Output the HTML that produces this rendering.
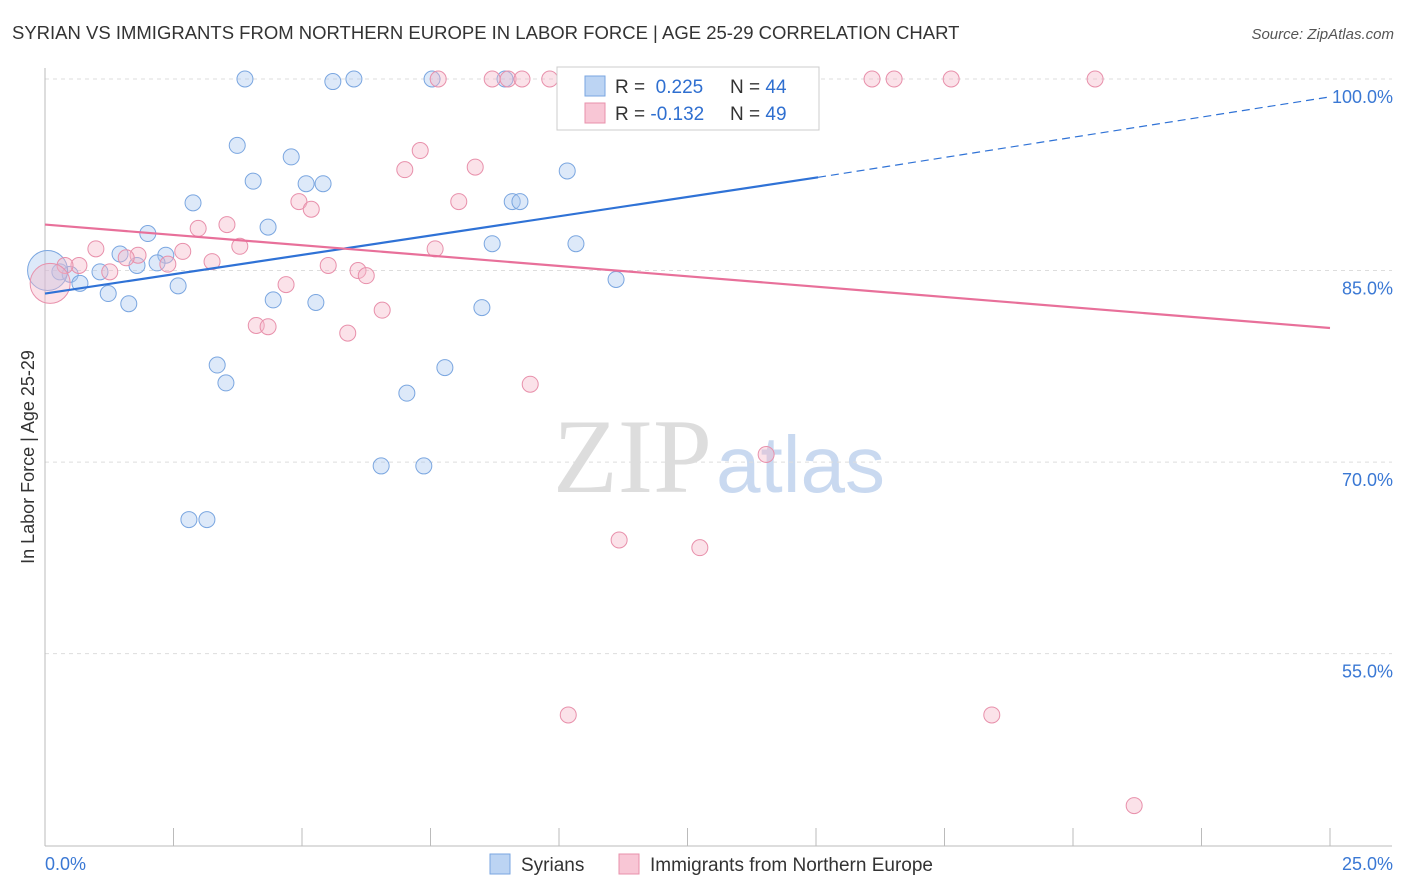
<!DOCTYPE html>
<html><head><meta charset="utf-8">
<style>
body{margin:0;background:#fff;font-family:"Liberation Sans",sans-serif;}
svg{display:block}
</style></head>
<body>
<svg id="chart" width="1406" height="892">
<text x="12" y="39" font-size="18.5" fill="#333">SYRIAN VS IMMIGRANTS FROM NORTHERN EUROPE IN LABOR FORCE | AGE 25-29 CORRELATION CHART</text>
<text x="1394" y="39" font-size="15" fill="#555" font-style="italic" text-anchor="end">Source: ZipAtlas.com</text>
<text x="0" y="0" transform="translate(34,457) rotate(-90)" font-size="18" fill="#333" text-anchor="middle">In Labor Force | Age 25-29</text>
<text x="553" y="492" font-size="106" fill="#ddd" font-family="Liberation Serif,serif">ZIP</text>
<text x="716" y="492" font-size="80" fill="#c9d9f0">atlas</text>
<g id="grid"></g><g id="axes"></g><g id="pts"></g><g id="trend"></g>
<g>
<rect x="557" y="67" width="262" height="63" fill="#fff" stroke="#ccc"/>
<rect x="585" y="76" width="20" height="20" fill="#bcd4f3" stroke="#7aa6e0"/>
<rect x="585" y="103" width="20" height="20" fill="#f8c6d5" stroke="#e890ab"/>
<text x="615" y="93" font-size="19" fill="#333">R = <tspan fill="#2f6fd0">&#160;0.225</tspan></text>
<text x="730" y="93" font-size="19" fill="#333">N = <tspan fill="#2f6fd0">44</tspan></text>
<text x="615" y="120" font-size="19" fill="#333">R = <tspan fill="#2f6fd0">-0.132</tspan></text>
<text x="730" y="120" font-size="19" fill="#333">N = <tspan fill="#2f6fd0">49</tspan></text>
</g>
<g>
<rect x="490" y="854" width="20" height="20" fill="#bcd4f3" stroke="#7aa6e0"/>
<text x="521" y="871" font-size="19" fill="#333">Syrians</text>
<rect x="619" y="854" width="20" height="20" fill="#f8c6d5" stroke="#e890ab"/>
<text x="650" y="871" font-size="19" fill="#333">Immigrants from Northern Europe</text>
</g>
</svg>
<script>
const xTicks=[0,2.5,5,7.5,10,12.5,15,17.5,20,22.5,25];
const yTicks=[100,85,70,55];
const yTickLabels=["100.0%","85.0%","70.0%","55.0%"];
const xTickLabels=["0.0%","25.0%"];
const blueX=[3.89,5.60,6.01,7.53,8.95,3.74,4.79,4.05,5.08,5.41,2.88,9.09,9.24,10.16,4.34,2.00,8.70,10.33,1.46,2.35,1.79,2.18,1.07,0.29,0.49,0.68,1.23,2.59,1.63,4.44,5.27,8.50,11.11,3.35,3.52,7.78,7.04,6.54,7.37,2.80,3.15,0.05];
const blueY=[100,99.8,100,100,100,94.8,93.9,92.0,91.8,91.8,90.3,90.4,90.4,92.8,88.4,87.9,87.1,87.1,86.3,86.2,85.4,85.6,84.9,84.9,84.7,84.0,83.2,83.8,82.4,82.7,82.5,82.1,84.3,77.6,76.2,77.4,75.4,69.7,69.7,65.5,65.5,85.0];
const pinkX=[7.65,8.70,9.01,9.28,9.82,10.47,13.62,16.09,16.52,17.63,20.43,7.30,7.00,8.37,8.05,4.94,5.18,3.54,2.98,0.99,2.68,3.79,1.81,1.58,2.39,3.25,1.26,0.66,0.39,7.59,5.51,6.09,6.25,4.69,6.56,4.11,4.34,5.89,9.44,14.03,11.17,12.74,10.18,18.42,21.19,0.1];
const pinkY=[100,100,100,100,100,100,100,100,100,100,100,94.4,92.9,93.1,90.4,90.4,89.8,88.6,88.3,86.7,86.5,86.9,86.2,86.0,85.5,85.7,84.9,85.4,85.4,86.7,85.4,85.0,84.6,83.9,81.9,80.7,80.6,80.1,76.1,70.6,63.9,63.3,50.2,50.2,43.1,84.0];
const blueTrend=[83.2,92.3,98.6];
const blueTrendX=[0,15.04,25];
const pinkTrend=[88.6,80.5];
const pinkTrendX=[0,25];
const NS="http://www.w3.org/2000/svg";
const X=v=>45+v*51.4, Y=v=>79+(100-v)*12.77;
function mk(p,t,a){const e=document.createElementNS(NS,t);for(const k in a)e.setAttribute(k,a[k]);p.appendChild(e);return e;}
const grid=document.getElementById('grid'),axes=document.getElementById('axes'),pts=document.getElementById('pts'),tr=document.getElementById('trend');
yTicks.forEach((v,i)=>{
 const l=mk(grid,'line',{x1:45,x2:1392,y1:Y(v),y2:Y(v),stroke:'#ddd','stroke-dasharray':'4,4'});
 
 
 const t=mk(axes,'text',{x:1393,y:Y(v)+24,'font-size':18,fill:'#3a78d4','text-anchor':'end'});t.textContent=yTickLabels[i];
 
 
});
const ax=mk(axes,'line',{x1:45,x2:45,y1:68,y2:846,stroke:'#bbb'});


const bx=mk(axes,'line',{x1:45,x2:1392,y1:846,y2:846,stroke:'#bbb'});


xTicks.forEach(v=>{const t=mk(axes,'line',{x1:X(v),x2:X(v),y1:828,y2:846,stroke:'#bbb'});
 
 });
[[0,'start',45],[1,'end',1393]].forEach(([i,a,x])=>{const t=mk(axes,'text',{x:x,y:870,'font-size':18,fill:'#3a78d4','text-anchor':a});t.textContent=xTickLabels[i];
 
 });
function dots(xs,ys,fill,stroke,name){xs.forEach((x,i)=>{const big=i===xs.length-1;
 const c=mk(pts,'circle',{cx:X(x),cy:Y(ys[i]),r:big?20:8,fill:fill,'fill-opacity':0.4,stroke:stroke,'stroke-width':1});
 
 });}
dots(blueX,blueY,'#a9c8f0','#7aa6e0','syrian-point');
dots(pinkX,pinkY,'#f4b6c8','#e890ab','northern-europe-point');
const b1=mk(tr,'line',{x1:X(blueTrendX[0]),y1:Y(blueTrend[0]),x2:X(blueTrendX[1]),y2:Y(blueTrend[1]),stroke:'#2f72d6','stroke-width':2.2});


const b2=mk(tr,'line',{x1:X(blueTrendX[1]),y1:Y(blueTrend[1]),x2:X(blueTrendX[2]),y2:Y(blueTrend[2]),stroke:'#2f72d6','stroke-width':1.2,'stroke-dasharray':'8,5'});


const p1=mk(tr,'line',{x1:X(pinkTrendX[0]),y1:Y(pinkTrend[0]),x2:X(pinkTrendX[1]),y2:Y(pinkTrend[1]),stroke:'#e8709a','stroke-width':2.2});


</script>
</body></html>
